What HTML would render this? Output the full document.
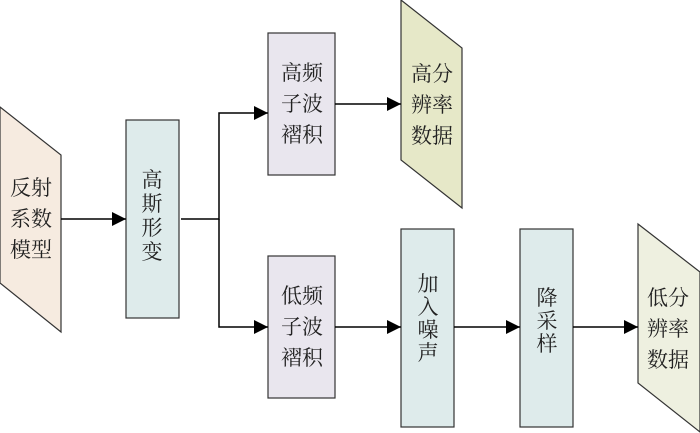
<!DOCTYPE html>
<html><head><meta charset="utf-8"><style>
html,body{margin:0;padding:0;background:#fff;}
svg{display:block;}
text{font-family:"Liberation Serif","Noto Serif CJK SC","Noto Sans CJK SC",serif;font-size:21px;fill:#222;text-anchor:middle;dominant-baseline:central;}
</style></head><body>
<svg width="700" height="433" viewBox="0 0 700 433" xmlns="http://www.w3.org/2000/svg">
<defs><marker id="a" markerWidth="14" markerHeight="14" refX="14" refY="7" orient="auto" markerUnits="userSpaceOnUse"><path d="M0,0 L14,7 L0,14 Z" fill="#000"/></marker></defs>
<g stroke="#333" stroke-width="1.2">
<polygon points="0,107 61,155 61,332 0,283" fill="#f6ebe0"/>
<rect x="126" y="120" width="53" height="198" fill="#deebeb"/>
<rect x="268" y="33" width="67" height="142" fill="#e9e6ee"/>
<rect x="268" y="256" width="67" height="142" fill="#e9e6ee"/>
<polygon points="401,0 462,48 462,208 401,160" fill="#e6e8c8"/>
<rect x="401" y="229" width="53" height="198" fill="#deebeb"/>
<rect x="520" y="229" width="53" height="198" fill="#deebeb"/>
<polygon points="638,224 700,272 700,432 638,383" fill="#eef0e0"/>
</g>
<g stroke="#000" stroke-width="1.5" fill="none">
<line x1="61" y1="219" x2="126" y2="219" marker-end="url(#a)"/>
<polyline points="181,219 219,219 219,113 268,113" marker-end="url(#a)"/>
<polyline points="219,219 219,327 268,327" marker-end="url(#a)"/>
<line x1="335" y1="104" x2="401" y2="104" marker-end="url(#a)"/>
<line x1="335" y1="327" x2="401" y2="327" marker-end="url(#a)"/>
<line x1="454" y1="327" x2="520" y2="327" marker-end="url(#a)"/>
<line x1="573" y1="327" x2="638" y2="327" marker-end="url(#a)"/>
</g>
<text x="31" y="188">反射</text><text x="31" y="219">系数</text><text x="31" y="250">模型</text>
<text x="152" y="180">高</text><text x="152" y="204">斯</text><text x="152" y="228">形</text><text x="152" y="252">变</text>
<text x="302" y="73">高频</text><text x="302" y="104">子波</text><text x="302" y="135">褶积</text>
<text x="302" y="296">低频</text><text x="302" y="327">子波</text><text x="302" y="358">褶积</text>
<text x="432" y="74">高分</text><text x="432" y="105">辨率</text><text x="432" y="136">数据</text>
<text x="428" y="284">加</text><text x="428" y="307">入</text><text x="428" y="330">噪</text><text x="428" y="353">声</text>
<text x="547" y="298">降</text><text x="547" y="321">采</text><text x="547" y="344">样</text>
<text x="668" y="298">低分</text><text x="668" y="329">辨率</text><text x="668" y="360">数据</text>
</svg>
</body></html>
